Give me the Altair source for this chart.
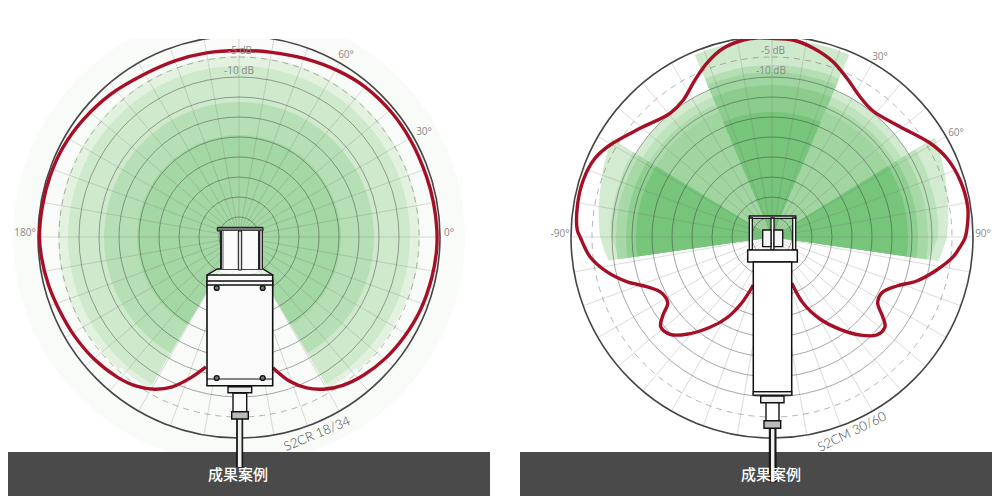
import math
import altair as alt
import pandas as pd

# ---------- panel geometry ----------
L_CX, R_CX, CY = 239, 772, 237
RING_RADII = [20, 40, 60, 80, 100, 120, 140, 160]
DASH_RADIUS = 180
OUTER_RADIUS = 201
SPOKE_ANGLES = list(range(0, 360, 10))

# ---------- red polar curves ----------
# left: angle (deg clockwise from up) and radius
left_curve_a = [165.5, 160.6, 155.8, 151, 145, 138, 130, 121, 112, 102, 94, 88, 80, 72, 61, 51, 40, 31, 20, 10, 0, -10, -20, -31, -42, -53, -63, -72, -81, -90, -96, -104, -112, -121, -130, -139, -145.5, -151, -156, -161, -165.7]
left_curve_r = [135, 153, 165.5, 174, 181, 186, 190, 193, 195.5, 197, 198, 198, 197.5, 197, 197, 197, 196, 193.5, 190, 187.5, 186.5, 187, 187.5, 188.5, 192, 195, 197.5, 198.5, 199, 199.5, 198.5, 196.5, 194, 192, 189.5, 185.6, 181, 174, 164, 149, 134]
# right: x and y
right_curve_x = [791.7, 803, 820, 840, 860, 876.7, 885, 882.7, 877.7, 881.7, 896.7, 916.7, 936.7, 953.3, 960, 965, 967.7, 967.7, 960, 946.7, 930, 900, 873, 860, 846.7, 833, 813, 793, 770, 756.7, 743.3, 723.3, 706.7, 695, 683.3, 670, 640, 610, 595, 583.3, 577.3, 577.3, 580, 590, 606.7, 626.7, 646.7, 661.7, 667.7, 663, 660.7, 670, 686.7, 710, 726.7, 741.7, 753.3]
right_curve_y = [283, 303, 319, 329.3, 335, 335, 326.7, 316.7, 303, 293, 286, 281, 270, 256.7, 247, 238, 222, 206.7, 180, 158, 143, 126.7, 111, 96.7, 78, 61.7, 48, 40, 38.3, 38, 40, 48.3, 63.3, 80, 100, 113.3, 128.3, 145, 158.3, 180, 206.7, 230, 236.7, 256.7, 271.7, 281.7, 286.7, 293, 303, 315, 326.7, 334.3, 334.3, 327.3, 318, 303, 285]

# ---------- green sectors: start angle, end angle (deg clockwise from up), radius, colour ----------
left_sectors_a0 = [-149.5, -149.5, -138, -125, -110, -149.5, -149.5]
left_sectors_a1 = [-138, -125, -110, 110, 138, 149.5, 149.5]
left_sectors_r = [173, 176, 179, 181, 179, 176, 173]
left_sector_color = "#e2f2df"
left_core_radii = [171, 135, 102]
left_core_colors = ["#cfe9cc", "#b7dfb5", "#a3d7a3"]
LEFT_EDGE = 149.5

mid_radii = [160, 152, 144, 136]
mid_colors = ["#d3ecd1", "#bfe3bd", "#acdbab", "#a0d5a0"]
MID_A0, MID_A1 = 23, 58.5

top_radii = [198, 172, 165, 152, 125]
top_colors = ["#cfe9cc", "#b5deb3", "#9fd5a0", "#8ccd8e", "#76c57b"]
TOP_HALF = 23

side_radii = [156, 146, 136]
side_colors = ["#a7d9a7", "#8fcf91", "#76c57b"]
SIDE_A0, SIDE_A1 = 58.5, 98.2
lobe_angles = [58.5, 65, 70, 75, 80, 85, 90, 95, 98.2]
lobe1_radii = [191, 187, 184, 181, 179, 177, 175, 171, 168]
lobe2_radii = [168, 168, 167, 167, 167, 167, 166, 161, 157]
lobe_colors = ["#d3ecd1", "#bce2bb"]
LEFT_LOBE_TRIM = [3, 5]

# ---------- device outlines: x0, x1, y0, y1, fill, stroke, stroke width ----------
dev_x0 = [236.7, 237.9, 217.3, 220, 222, 258, 260, 262, 224, 238.3, 207, 207, 233, 228, 231.7,
          769.3, 771, 749.3, 792.7, 749.3, 771, 762.7, 774, 747.7, 753.3, 753.3, 760.7, 766, 764]
dev_x1 = [242.7, 241.5, 263, 222, 224, 260, 262, 263, 258, 241.7, 272.7, 272.7, 246.7, 251.7, 248.3,
          776, 774.4, 795.7, 795.7, 752.3, 774, 771, 782.7, 797.3, 791.7, 791.7, 784, 779, 780.7]
dev_y0 = [419, 419, 227.3, 231, 231, 231, 231, 231, 231, 231, 275, 281, 393, 386.7, 411.7,
          428, 428, 216, 218, 218, 218, 230, 230, 250, 262, 391.7, 396, 402.7, 420.7]
dev_y1 = [467, 467, 231, 269, 269, 269, 269, 269, 269, 270, 385.7, 285, 412, 392.7, 419,
          481.7, 481.7, 218.3, 250, 250, 250, 246.7, 246.7, 262, 395, 395, 402.7, 421, 428.3]
dev_fill = ["#1c1c1c", "#f2f2f2", "#777777", "#222222", "#aaaaaa", "#222222", "#aaaaaa", "#222222", "#fbfbfb", "#dddddd", "#fafafa", "#fafafa", "#fafafa", "#e8e8e8", "#bbbbbb",
            "#1c1c1c", "#f2f2f2", "#ffffff", "#ffffff", "#ffffff", "#ffffff", "#f4f4f4", "#f4f4f4", "#ffffff", "#ffffff", "#ffffff", "#eeeeee", "#ffffff", "#bbbbbb"]
dev_width = [1.0, 0, 1, 0, 0, 0, 0, 0, 0, 1, 1.6, 1.4, 1.4, 1.4, 1.4,
             1.0, 0, 1.3, 1.3, 1.3, 1.3, 1.3, 1.3, 1.5, 1.5, 1.2, 1.4, 1.4, 1.4]
body_line_x0 = [207, 753.3]
body_line_x1 = [272.7, 791.7]
body_line_y = [379, 391.7]
shoulder_x = [207, 217.3, 263, 272.7]
shoulder_top = [275, 269, 269, 275]
shoulder_bottom = [275, 275, 275, 275]
screw_x = [216.7, 262.7, 216.7, 262.7]
screw_y = [288, 288, 378, 378]

# ---------- text ----------
label_text = ["-5 dB", "-10 dB", "180°", "0°", "30°", "60°", "-5 dB", "-10 dB", "-90°", "90°", "30°", "60°"]
label_x = [240, 239, 25, 449, 424, 346, 773, 771, 560, 983, 880, 956]
label_y = [51, 71, 233, 233, 132, 55, 51, 71, 234, 234, 57, 133]
model_text = ["S2CR 18/34", "S2CM 30/60"]
model_x = [317, 852]
model_y = [434, 432]
model_angle = [337.5, 334]
band_x0 = [8, 520]
band_x1 = [490, 992]
band_text = ["成果案例", "成果案例"]
band_cx = [238, 771]

XS = alt.Scale(domain=[8, 992], range=[0, 984])
YS = alt.Scale(domain=[8, 496], range=[0, 488])
X = lambda f="x": alt.X(f"{f}:Q", scale=XS, axis=None)
Y = lambda f="y": alt.Y(f"{f}:Q", scale=YS, axis=None)


def rad(d):
    return d * math.pi / 180


def sectors(rows):
    """rows: cx, a0, a1, r, colour."""
    df = pd.DataFrame(rows, columns=["cx", "a0", "a1", "r", "c"])
    df["cy"] = CY
    df["t0"] = df.a0.map(rad)
    df["t1"] = df.a1.map(rad)
    df["k"] = range(len(df))
    return alt.Chart(df).mark_arc(strokeWidth=0).encode(
        x=X("cx"), y=Y("cy"),
        theta=alt.Theta("t0:Q", scale=None), theta2=alt.Theta2("t1:Q"),
        radius=alt.Radius("r:Q", scale=None),
        fill=alt.Fill("c:N", scale=None),
        order=alt.Order("k:Q"),
    )


def rings(radii, **mark):
    rows = [(cx, r) for cx in (L_CX, R_CX) for r in radii]
    df = pd.DataFrame(rows, columns=["cx", "r"])
    df["cy"] = CY
    df["t0"] = 0.0
    df["t1"] = 2 * math.pi
    return alt.Chart(df).mark_arc(filled=False, **mark).encode(
        x=X("cx"), y=Y("cy"),
        theta=alt.Theta("t0:Q", scale=None), theta2=alt.Theta2("t1:Q"),
        radius=alt.Radius("r:Q", scale=None),
    )


def lobe(side, radii, colour, trim):
    pts = []
    t_up = math.tan(rad(SIDE_A0))
    t_dn = math.tan(rad(SIDE_A1 - 90))
    for a, r in zip(lobe_angles, radii):
        r = r - trim
        dx, dy = r * math.sin(rad(a)), -r * math.cos(rad(a))
        if dy <= 0:
            inner = -dy * t_up
        else:
            inner = dy / t_dn
        pts.append(dict(y=CY + dy, x0=R_CX + side * min(inner, dx), x1=R_CX + side * dx))
    return alt.Chart(pd.DataFrame(pts)).mark_area(orient="horizontal", color=colour).encode(
        y=Y("y"), x=X("x0"), x2="x1:Q"
    )


def rects(x0, x1, y0, y1, fill, **mark):
    df = pd.DataFrame(dict(x0=x0, x1=x1, y0=y0, y1=y1, f=fill))
    return alt.Chart(df).mark_rect(**mark).encode(
        x=X("x0"), x2="x1:Q", y=Y("y0"), y2="y1:Q", fill=alt.Fill("f:N", scale=None)
    )


def curve(xs, ys):
    df = pd.DataFrame(dict(x=xs, y=ys, i=range(len(xs))))
    return alt.Chart(df).mark_line(color="#a60f25", strokeWidth=3.4, interpolate="catmull-rom",
                                   strokeCap="butt").encode(x=X(), y=Y(), order="i:Q")


layers = []

# backdrop disc
layers.append(sectors([(L_CX, 0, 360, 226, "#f9fbf9")]))

# left fan
rows = [(L_CX, a0, a1, r, left_sector_color) for a0, a1, r in zip(left_sectors_a0, left_sectors_a1, left_sectors_r)]
rows += [(L_CX, -LEFT_EDGE, LEFT_EDGE, r, c) for r, c in zip(left_core_radii, left_core_colors)]
layers.append(sectors(rows))

# right fan
rows = []
for sgn in (1, -1):
    a0, a1 = sorted((sgn * MID_A0, sgn * MID_A1))
    rows += [(R_CX, a0, a1, r, c) for r, c in zip(mid_radii, mid_colors)]
rows += [(R_CX, -TOP_HALF, TOP_HALF, r, c) for r, c in zip(top_radii, top_colors)]
layers.append(sectors(rows))
layers.append(lobe(1, lobe1_radii, lobe_colors[0], 0))
layers.append(lobe(1, lobe2_radii, lobe_colors[1], 0))
layers.append(lobe(-1, lobe1_radii, lobe_colors[0], LEFT_LOBE_TRIM[0]))
layers.append(lobe(-1, lobe2_radii, lobe_colors[1], LEFT_LOBE_TRIM[1]))
rows = []
for sgn in (1, -1):
    a0, a1 = sorted((sgn * SIDE_A0, sgn * SIDE_A1))
    rows += [(R_CX, a0, a1, r, c) for r, c in zip(side_radii, side_colors)]
layers.append(sectors(rows))

# spokes
sp = []
for cx in (L_CX, R_CX):
    for a in SPOKE_ANGLES:
        sp.append(dict(x0=cx, y0=CY, x1=cx + OUTER_RADIUS * math.sin(rad(a)), y1=CY - OUTER_RADIUS * math.cos(rad(a))))
layers.append(alt.Chart(pd.DataFrame(sp)).mark_rule(color="#777777", opacity=0.38, strokeWidth=0.7).encode(
    x=X("x0"), y=Y("y0"), x2="x1:Q", y2="y1:Q"))

# rings
layers.append(rings(RING_RADII, stroke="#333333", strokeOpacity=0.55, strokeWidth=0.8))
layers.append(rings([DASH_RADIUS], stroke="#555555", strokeOpacity=0.55, strokeWidth=0.8, strokeDash=[6, 5]))
layers.append(rings([OUTER_RADIUS], stroke="#444444", strokeWidth=1.6))

# red curves
layers.append(curve([L_CX + r * math.sin(rad(a)) for a, r in zip(left_curve_a, left_curve_r)],
                    [CY - r * math.cos(rad(a)) for a, r in zip(left_curve_a, left_curve_r)]))
layers.append(curve(right_curve_x, right_curve_y))

# mask above the plots and dark bands
layers.append(rects([8], [992], [8], [39], ["#ffffff"], strokeWidth=0))
layers.append(rects(band_x0, band_x1, [452, 452], [496, 496], ["#4a4a4a", "#4a4a4a"], strokeWidth=0))

# device: shoulders, rects, lines, screws
sh = pd.DataFrame(dict(x=shoulder_x, y=shoulder_top, y2=shoulder_bottom))
layers.append(alt.Chart(sh).mark_area(color="#fafafa", line=dict(color="#111111", strokeWidth=1.4)).encode(
    x=X(), y=Y(), y2="y2:Q"))
dev = pd.DataFrame(dict(x0=dev_x0, x1=dev_x1, y0=dev_y0, y1=dev_y1, f=dev_fill, w=dev_width, k=range(len(dev_x0))))
layers.append(alt.Chart(dev).mark_rect(stroke="#111111").encode(
    x=X("x0"), x2="x1:Q", y=Y("y0"), y2="y1:Q",
    fill=alt.Fill("f:N", scale=None),
    strokeWidth=alt.StrokeWidth("w:Q", scale=None),
    order=alt.Order("k:Q"),
))
bl = pd.DataFrame(dict(x0=body_line_x0, x1=body_line_x1, y=body_line_y))
layers.append(alt.Chart(bl).mark_rule(color="#111111", strokeWidth=1.2).encode(x=X("x0"), x2="x1:Q", y=Y()))
sc = pd.DataFrame(dict(x=screw_x, y=screw_y))
layers.append(alt.Chart(sc).mark_point(shape="circle", size=24, filled=True, fill="#777777", stroke="#111111",
                                       strokeWidth=1.3, opacity=1).encode(x=X(), y=Y()))

# text
lab = pd.DataFrame(dict(t=label_text, x=label_x, y=label_y))
layers.append(alt.Chart(lab).mark_text(fontSize=10, color="#888888", font="Open Sans", align="center",
                                       baseline="middle").encode(x=X(), y=Y(), text="t:N"))
mod = pd.DataFrame(dict(t=model_text, x=model_x, y=model_y, a=model_angle))
for _, m in mod.iterrows():
    layers.append(alt.Chart(mod[mod.t == m.t]).mark_text(fontSize=13, color="#444444", font="Lato", align="center",
                                                         baseline="middle", angle=float(m.a), fontWeight=300).encode(
        x=X(), y=Y(), text="t:N"))
bt = pd.DataFrame(dict(t=band_text, x=band_cx, y=[475, 475]))
layers.append(alt.Chart(bt).mark_text(fontSize=15, color="#ffffff", font="Noto Sans CJK JP", align="center",
                                      baseline="middle", fontWeight=500).encode(x=X(), y=Y(), text="t:N"))

chart = alt.layer(*layers).properties(
    width=984, height=488, padding=0, background="#ffffff",
    autosize=alt.AutoSizeParams(type="none"),
).configure_view(stroke=None)

chart.save("out.html", embed_options={"renderer": "svg", "actions": False})
